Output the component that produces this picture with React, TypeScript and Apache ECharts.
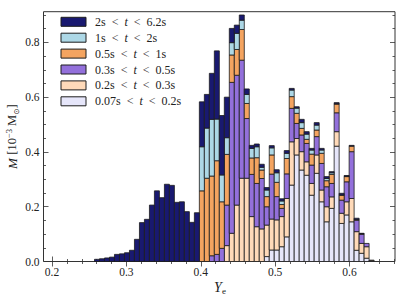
import React, { useEffect, useRef } from "react";
import * as echarts from "echarts";

// Histogram bins (Ye), first non-empty bin left edge and bin width
const firstBinEdge = 0.2571;
const binWidth = 0.006714;

// Series values per bin (stacked bottom -> top: t007to02 ... t2to6)
const t2to6 = [0.008,0.010,0.013,0.016,0.026,0.028,0.032,0.041,0.081,0.142,0.154,0.206,0.258,0.233,0.282,0.278,0.216,0.218,0.182,0.143,0.178,
  0.164,0.123,0.168,0.249,0.217,0.148,0.052,0.030,0.019,0.020,
  0.011,0.010,0.011,0.009,0.008,0.011,0.008,0.010,0.006,0.005,
  0.012,0.009,0.006,0.009,0.006,0.007,0.004,0.004,0.006,0.003,
  0.003,0.005,0.002,0,0];
const t1to2 = [0,0,0,0,0,0,0,0,0,0,0,0,0,0,0,0,0,0,0,0,0,
  0.161,0.183,0.207,0.152,0.098,0.061,0.045,0.059,0.034,0.033,
  0.035,0.040,0.010,0.024,0.026,0.035,0.013,0.019,0.024,0.019,
  0.021,0.019,0.015,0.018,0.012,0.008,0.006,0.001,0.001,0.001,
  0,0,0,0,0];
const t05to1 = [0,0,0,0,0,0,0,0,0,0,0,0,0,0,0,0,0,0,0,0,0,
  0.258,0.304,0.291,0.342,0.170,0.185,0.100,0.094,0.112,0.055,
  0.060,0.094,0.031,0.037,0.070,0.052,0.014,0.056,0.043,0.037,
  0.024,0.015,0.040,0.024,0.037,0.022,0.033,0.032,0.018,0.019,
  0.020,0.002,0.001,0,0];
const t03to05 = [0,0,0,0,0,0,0,0,0,0,0,0,0,0,0,0,0,0,0,0,0,
  0,0,0.021,0.026,0.048,0.148,0.551,0.474,0.431,0.218,
  0.154,0.158,0.184,0.067,0.164,0.085,0.030,0.090,0.122,0.055,
  0.061,0.067,0.067,0.067,0.097,0.073,0.049,0.069,0.048,0.073,
  0.171,0.042,0.034,0.012,0];
const t02to03 = [0,0,0,0,0,0,0,0,0,0,0,0,0,0,0,0,0,0,0,0,0,
  0,0,0,0,0,0.058,0.103,0.206,0.304,0.304,
  0.164,0.127,0.119,0.115,0.113,0.110,0.110,0.140,0.158,0.060,
  0.067,0.049,0.043,0.067,0.043,0.055,0.042,0.053,0.037,0.048,
  0.085,0.068,0.036,0.042,0.002];
const t007to02 = [0,0,0,0,0,0,0,0,0,0,0,0,0,0,0,0,0,0,0,0,0,
  0,0,0,0,0,0,0,0,0,0,
  0,0,0,0.018,0.042,0.042,0.054,0.090,0.279,0.389,
  0.334,0.315,0.242,0.322,0.218,0.145,0.194,0.421,0.139,0.170,
  0.145,0.041,0.030,0.012,0.003];

const seriesNames = [
  "0.07s < t < 0.2s",
  "0.2s < t < 0.3s",
  "0.3s < t < 0.5s",
  "0.5s < t < 1s",
  "1s < t < 2s",
  "2s < t < 6.2s",
];
const seriesValues = [t007to02, t02to03, t03to05, t05to1, t1to2, t2to6];
const seriesColors = ["#E6E6FA", "#FFDAB9", "#9370DB", "#F4A460", "#ADD8E6", "#191970"];

const xMajorTicks = [0.2, 0.3, 0.4, 0.5, 0.6];
const xMinorTicks = [0.22, 0.24, 0.26, 0.28, 0.32, 0.34, 0.36, 0.38, 0.42, 0.44, 0.46, 0.48, 0.52, 0.54, 0.56, 0.58, 0.62, 0.64, 0.66];
const yMajorTicks = [0, 0.2, 0.4, 0.6, 0.8];
const yMinorTicks = [0.05, 0.1, 0.15, 0.25, 0.3, 0.35, 0.45, 0.5, 0.55, 0.65, 0.7, 0.75, 0.85, 0.9];

const X_MIN = 0.1885;
const X_MAX = 0.6612;
const Y_MIN = 0;
const Y_MAX = 0.912;

const SERIF = "'Liberation Serif', 'DejaVu Serif', serif";
const TICK_COLOR = "#333";

function legendLabel(name: string): string {
  const parts = name.split(" < ");
  return `{r|${parts[0]}}{lt|<}{i|t}{lt|<}{r|${parts[2]}}`;
}

export default function App() {
  const ref = useRef<HTMLDivElement>(null);

  useEffect(() => {
    if (!ref.current) return;
    const chart = echarts.init(ref.current, undefined, { renderer: "svg" });

    const cumulative = t2to6.map(() => 0);
    const series: any[] = seriesValues.map((vals, si) => {
      const data: number[][] = [];
      vals.forEach((v, i) => {
        const lo = firstBinEdge + i * binWidth;
        const base = cumulative[i];
        if (v > 0) data.push([lo, lo + binWidth, base, base + v]);
        cumulative[i] = base + v;
      });
      const color = seriesColors[si];
      return {
        name: seriesNames[si],
        type: "custom",
        coordinateSystem: "cartesian2d",
        xAxisIndex: 0,
        yAxisIndex: 0,
        itemStyle: { color, borderColor: "#1c1c1c", borderWidth: 0.8 },
        encode: { x: [0, 1], y: [2, 3] },
        data,
        renderItem: (params: any, api: any) => {
          const p0 = api.coord([api.value(0), api.value(3)]);
          const p1 = api.coord([api.value(1), api.value(2)]);
          return {
            type: "rect",
            shape: { x: p0[0], y: p0[1], width: p1[0] - p0[0], height: p1[1] - p0[1] },
            style: { fill: color, stroke: "#1c1c1c", lineWidth: 0.8 },
          };
        },
      };
    });

    const mkX = (position: string, ticks: number[], len: number, labels: boolean) => ({
      type: "value",
      position,
      min: X_MIN,
      max: X_MAX,
      axisLine: { show: false },
      splitLine: { show: false },
      axisTick: { show: true, inside: true, length: len, customValues: ticks, lineStyle: { color: TICK_COLOR, width: 0.8 } },
      axisLabel: labels
        ? { show: true, customValues: ticks, margin: 4, formatter: (v: number) => v.toFixed(1), fontFamily: SERIF, fontSize: 11.5, color: "#222" }
        : { show: false },
    });
    const mkY = (position: string, ticks: number[], len: number, labels: boolean) => ({
      type: "value",
      position,
      min: Y_MIN,
      max: Y_MAX,
      axisLine: { show: false },
      splitLine: { show: false },
      axisTick: { show: true, inside: true, length: len, customValues: ticks, lineStyle: { color: TICK_COLOR, width: 0.8 } },
      axisLabel: labels
        ? { show: true, customValues: ticks, margin: 4, formatter: (v: number) => v.toFixed(1), fontFamily: SERIF, fontSize: 11.5, color: "#222" }
        : { show: false },
    });

    chart.setOption({
      animation: false,
      backgroundColor: "#ffffff",
      grid: { left: 43.5, right: 12, top: 11.7, bottom: 38.5, show: true, borderColor: "#333", borderWidth: 1, backgroundColor: "transparent" },
      xAxis: [
        mkX("bottom", xMajorTicks, 5, true),
        mkX("bottom", xMinorTicks, 2.5, false),
        mkX("top", xMajorTicks, 5, false),
        mkX("top", xMinorTicks, 2.5, false),
      ],
      yAxis: [
        mkY("left", yMajorTicks, 5, true),
        mkY("left", yMinorTicks, 2.5, false),
        mkY("right", yMajorTicks, 5, false),
        mkY("right", yMinorTicks, 2.5, false),
      ],
      legend: {
        orient: "vertical",
        left: 55.5,
        top: 10.8,
        itemWidth: 25,
        itemHeight: 9,
        itemGap: 3.9,
        icon: "rect",
        data: [...seriesNames].reverse(),
        itemStyle: { borderColor: "#1c1c1c", borderWidth: 1 },
        formatter: (name: string) => legendLabel(name),
        textStyle: {
          fontFamily: SERIF,
          fontSize: 12,
          lineHeight: 12,
          padding: [0, 0, 0, 4],
          rich: {
            r: { fontFamily: SERIF, fontSize: 12, color: "#222" },
            lt: { fontFamily: SERIF, fontSize: 12, color: "#222", padding: [0, 6, 0, 6] },
            i: { fontFamily: SERIF, fontSize: 12, fontStyle: "italic", color: "#222" },
          },
        },
        selectedMode: false,
      },
      graphic: [
        {
          type: "text",
          x: 12,
          y: 136.6,
          rotation: Math.PI / 2,
          style: {
            text: "{i|M} {r|[10}{sup|−3}{r| M}{sub|⊙}{r|]}",
            align: "center",
            verticalAlign: "middle",
            fill: "#222",
            rich: {
              i: { fontFamily: SERIF, fontSize: 13, fontStyle: "italic", lineHeight: 16 },
              r: { fontFamily: SERIF, fontSize: 12.5, lineHeight: 16 },
              sup: { fontFamily: SERIF, fontSize: 8.5, verticalAlign: "top", lineHeight: 16 },
              sub: { fontFamily: "'DejaVu Sans', sans-serif", fontSize: 7.5, verticalAlign: "bottom", lineHeight: 14 },
            },
          },
        },
        {
          type: "text",
          x: 220,
          y: 287,
          style: {
            text: "{i|Y}{sub|e}",
            align: "center",
            verticalAlign: "middle",
            fill: "#222",
            rich: {
              i: { fontFamily: SERIF, fontSize: 14, fontStyle: "italic", lineHeight: 16 },
              sub: { fontFamily: SERIF, fontSize: 9, verticalAlign: "bottom", lineHeight: 14 },
            },
          },
        },
      ],
      series,
    });

    return () => chart.dispose();
  }, []);

  return (
    <div
      ref={ref}
      style={{ position: "fixed", left: 0, top: 0, width: 407, height: 300, background: "#fff" }}
    />
  );
}
